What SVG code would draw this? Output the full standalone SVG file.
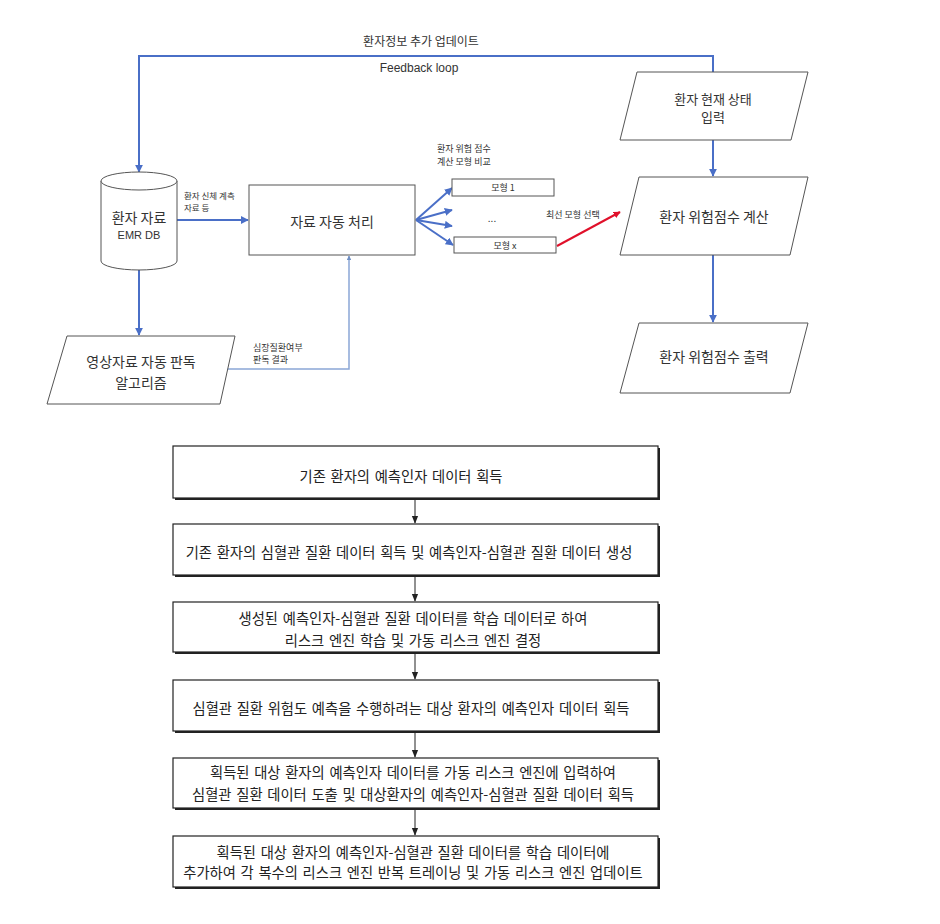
<svg xmlns="http://www.w3.org/2000/svg" width="940" height="924" viewBox="0 0 940 924">
<defs>
<style>
.k{font-family:"Noto Sans CJK KR","Liberation Sans",sans-serif;fill:#333}
.e{font-family:"Liberation Sans","Noto Sans CJK KR",sans-serif;fill:#333}
.f{font-family:"Noto Sans CJK KR","Liberation Sans",sans-serif;fill:#222;font-size:14.3px;word-spacing:1.5px}
.n{fill:#fff;stroke:#555;stroke-width:1}
.b{fill:#fff;stroke:#222;stroke-width:1.2}
.sh{fill:#222}
.bl{fill:none;stroke:#4a6fc7;stroke-width:2}
.lb{fill:none;stroke:#8ba7d6;stroke-width:1.5}
.rd{fill:none;stroke:#e0102a;stroke-width:2}
.bk{fill:none;stroke:#222;stroke-width:1}
</style>
<marker id="ab" viewBox="0 0 10 10" refX="9" refY="5" markerWidth="4" markerHeight="4" orient="auto"><path d="M0,0L10,5L0,10z" fill="#4a6fc7"/></marker>
<marker id="al" viewBox="0 0 10 10" refX="9" refY="5" markerWidth="3" markerHeight="3" orient="auto"><path d="M0,0L10,5L0,10z" fill="#6f8fc4"/></marker>
<marker id="ar" viewBox="0 0 10 10" refX="9" refY="5" markerWidth="3.5" markerHeight="3.5" orient="auto"><path d="M0,0L10,5L0,10z" fill="#e0102a"/></marker>
<marker id="ak" viewBox="0 0 10 10" refX="9" refY="5" markerWidth="8" markerHeight="8" orient="auto"><path d="M0,1L10,5L0,9z" fill="#222"/></marker>
</defs>
<rect width="940" height="924" fill="#fff"/>

<g id="connectors">
<polyline class="bl" points="713,72 713,56 139,56 139,172" marker-end="url(#ab)"/>
<line class="bl" x1="177" y1="220" x2="248" y2="220" marker-end="url(#ab)"/>
<line class="bl" x1="139" y1="270" x2="139" y2="335" marker-end="url(#ab)"/>
<polyline class="lb" points="227,369 349,369 349,256" marker-end="url(#al)"/>
<line class="bl" x1="416" y1="220" x2="452" y2="188" marker-end="url(#ab)"/>
<line class="bl" x1="416" y1="220" x2="452" y2="210" marker-end="url(#ab)"/>
<line class="bl" x1="416" y1="220" x2="452" y2="226" marker-end="url(#ab)"/>
<line class="bl" x1="416" y1="220" x2="453" y2="245" marker-end="url(#ab)"/>
<line class="rd" x1="557" y1="246" x2="620" y2="212" marker-end="url(#ar)"/>
<line class="bl" x1="713" y1="140" x2="713" y2="176" marker-end="url(#ab)"/>
<line class="bl" x1="713" y1="255" x2="713" y2="322" marker-end="url(#ab)"/>
<line class="bk" x1="415" y1="498" x2="415" y2="523" marker-end="url(#ak)"/>
<line class="bk" x1="415" y1="576" x2="415" y2="601" marker-end="url(#ak)"/>
<line class="bk" x1="415" y1="653" x2="415" y2="679" marker-end="url(#ak)"/>
<line class="bk" x1="415" y1="732" x2="415" y2="757" marker-end="url(#ak)"/>
<line class="bk" x1="415" y1="809" x2="415" y2="835" marker-end="url(#ak)"/>
</g>

<g id="labels">
<text class="k" x="421" y="46" font-size="12" text-anchor="middle">환자정보 추가 업데이트</text>
<text class="e" x="419" y="72" font-size="12" text-anchor="middle">Feedback loop</text>
<text class="k" x="184" y="199" font-size="8.5">환자 신체 계측</text>
<text class="k" x="184" y="211" font-size="8.5">자료 등</text>
<text class="k" x="437" y="152" font-size="9">환자 위험 점수</text>
<text class="k" x="437" y="165" font-size="9">계산 모형 비교</text>
<text class="k" x="546" y="218" font-size="9">최선 모형 선택</text>
<text class="k" x="253" y="351" font-size="9">심장질환여부</text>
<text class="k" x="253" y="363" font-size="9">판독 결과</text>
<text class="k" x="492" y="222" font-size="10" text-anchor="middle">...</text>
</g>

<g id="emr-db">
<path class="n" d="M101,181 L101,261 A38,9 0 0 0 177,261 L177,181"/>
<ellipse class="n" cx="139" cy="181" rx="38" ry="9"/>
<text class="k" x="139" y="223" font-size="14" text-anchor="middle">환자 자료</text>
<text class="e" x="139" y="239" font-size="11" text-anchor="middle">EMR DB</text>
</g>

<g id="auto-process">
<rect class="n" x="249" y="185" width="166" height="70"/>
<text class="k" x="332" y="227" font-size="14" text-anchor="middle">자료 자동 처리</text>
</g>

<g id="model-1">
<rect class="n" x="452" y="179" width="102" height="17"/>
<text class="k" x="503" y="191" font-size="9" text-anchor="middle">모형 1</text>
</g>

<g id="model-x">
<rect class="n" x="454" y="237" width="102" height="16"/>
<text class="k" x="505" y="249" font-size="9" text-anchor="middle">모형 x</text>
</g>

<g id="image-algo">
<polygon class="n" points="67,336 235,336 220,404 47,404"/>
<text class="k" x="141" y="367" font-size="14" text-anchor="middle">영상자료 자동 판독</text>
<text class="k" x="141" y="388" font-size="14" text-anchor="middle">알고리즘</text>
</g>

<g id="current-state">
<polygon class="n" points="637,72 808,72 791,140 620,140"/>
<text class="k" x="713" y="104" font-size="13" text-anchor="middle">환자 현재 상태</text>
<text class="k" x="713" y="122" font-size="13" text-anchor="middle">입력</text>
</g>

<g id="risk-calc">
<polygon class="n" points="639,177 808,177 790,255 620,255"/>
<text class="k" x="714" y="222" font-size="14" text-anchor="middle">환자 위험점수 계산</text>
</g>

<g id="risk-out">
<polygon class="n" points="639,323 808,323 790,393 620,393"/>
<text class="k" x="714" y="362" font-size="14" text-anchor="middle">환자 위험점수 출력</text>
</g>

<g id="step1">
<rect class="sh" x="175" y="448" width="485" height="52"/>
<rect class="b" x="173" y="446" width="485" height="52"/>
<text class="f" x="401" y="482" text-anchor="middle">기존 환자의 예측인자 데이터 획득</text>
</g>
<g id="step2">
<rect class="sh" x="175" y="526" width="485" height="51"/>
<rect class="b" x="173" y="524" width="485" height="51"/>
<text class="f" x="409" y="558" text-anchor="middle">기존 환자의 심혈관 질환 데이터 획득 및 예측인자-심혈관 질환 데이터 생성</text>
</g>
<g id="step3">
<rect class="sh" x="175" y="604" width="485" height="50"/>
<rect class="b" x="173" y="602" width="485" height="50"/>
<text class="f" x="413" y="624" text-anchor="middle">생성된 예측인자-심혈관 질환 데이터를 학습 데이터로 하여</text>
<text class="f" x="413" y="646" text-anchor="middle">리스크 엔진 학습 및 가동 리스크 엔진 결정</text>
</g>
<g id="step4">
<rect class="sh" x="175" y="682" width="485" height="51"/>
<rect class="b" x="173" y="680" width="485" height="51"/>
<text class="f" x="411" y="714" text-anchor="middle">심혈관 질환 위험도 예측을 수행하려는 대상 환자의 예측인자 데이터 획득</text>
</g>
<g id="step5">
<rect class="sh" x="175" y="760" width="485" height="50"/>
<rect class="b" x="173" y="758" width="485" height="50"/>
<text class="f" x="413" y="778" text-anchor="middle">획득된 대상 환자의 예측인자 데이터를 가동 리스크 엔진에 입력하여</text>
<text class="f" x="413" y="800" text-anchor="middle">심혈관 질환 데이터 도출 및 대상환자의 예측인자-심혈관 질환 데이터 획득</text>
</g>
<g id="step6">
<rect class="sh" x="175" y="838" width="485" height="51"/>
<rect class="b" x="173" y="836" width="485" height="51"/>
<text class="f" x="413" y="858" text-anchor="middle">획득된 대상 환자의 예측인자-심혈관 질환 데이터를 학습 데이터에</text>
<text class="f" x="413" y="878" text-anchor="middle">추가하여 각 복수의 리스크 엔진 반복 트레이닝 및 가동 리스크 엔진 업데이트</text>
</g>
</svg>
